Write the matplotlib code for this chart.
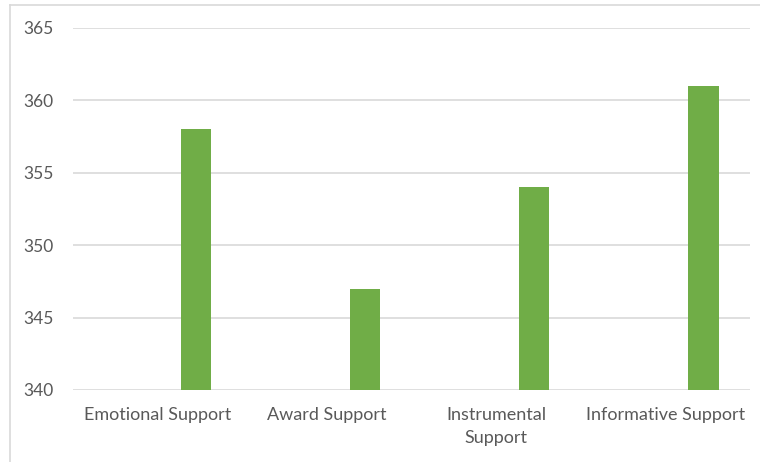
import numpy as np
import matplotlib.pyplot as plt
from matplotlib.lines import Line2D

# data
categories = ['Emotional Support', 'Award Support', 'Instrumental\nSupport', 'Informative Support']
values = [358, 347, 354, 361]
y_ticks = [340, 345, 350, 355, 360, 365]

plt.rcParams['font.family'] = ['Lato', 'DejaVu Sans']

fig = plt.figure(figsize=(7.6, 4.62), dpi=100)
ax = fig.add_axes([73/760, 72/462, 677/760, 362/462])

x = np.arange(len(categories))
ax.bar(x + 0.225, values, width=0.178, color='#70ad47', zorder=3)

ax.set_xlim(-0.5, len(categories) - 0.5)
ax.set_ylim(340, 365)
ax.set_yticks(y_ticks)
ax.set_xticks(x)
ax.set_xticklabels(categories, fontsize=13, color='#595959', linespacing=1.55)
ax.tick_params(axis='y', labelsize=12.5, labelcolor='#595959', length=0, pad=14)
ax.tick_params(axis='x', length=0, pad=12)
ax.grid(axis='y', color='#d9d9d9', linewidth=1.2, zorder=0)
for s in ax.spines.values():
    s.set_visible(False)

# chart border (partly cropped)
fig.add_artist(Line2D([10/760, 10/760], [0, 1 - 5/462], color='#d9d9d9', linewidth=1.2, transform=fig.transFigure))
fig.add_artist(Line2D([10/760, 1], [1 - 5/462, 1 - 5/462], color='#d9d9d9', linewidth=1.2, transform=fig.transFigure))

fig.savefig('out.png', dpi=100)
